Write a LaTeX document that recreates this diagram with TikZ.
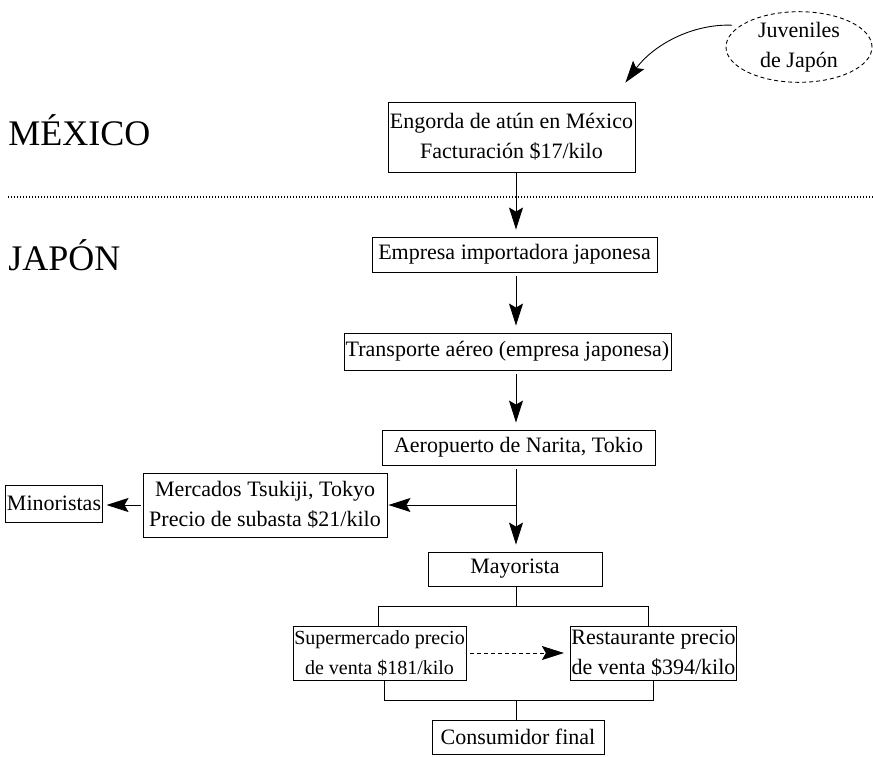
\documentclass[tikz,border=0pt]{standalone}
\usepackage{fontspec}
\setmainfont{Liberation Serif}
\usetikzlibrary{arrows.meta,shapes.geometric,calc}

\begin{document}
\begin{tikzpicture}[x=1pt,y=-1pt,line width=0.9pt,
	caja/.style={draw,align=center,inner sep=1pt,font=\fontsize{22}{30}\selectfont},
	flecha/.style={-{Stealth[length=22pt,width=14pt,inset=4pt]},shorten <=4pt,shorten >=7pt},
	pais/.style={anchor=base west,inner sep=0pt,font=\fontsize{36}{40}\selectfont}]
	\useasboundingbox (0,0) rectangle (873,756);

	\node[pais] (lMexico) at (8,145) {MÉXICO};
	\node[pais] (lJapon) at (8,270) {JAPÓN};
	\draw[line width=1.2pt,dash pattern=on 1pt off 2pt] (8,197) -- (873,197);

	\node[draw,ellipse,dash pattern=on 4pt off 3pt,minimum width=146pt,minimum height=68pt,inner sep=0pt,
		align=center,font=\fontsize{22}{30}\selectfont] (nJuveniles) at (799,47) {Juveniles\\de Japón};

	\node[caja,minimum width=247pt,minimum height=70pt] (nEngorda) at (511.5,137)
		{Engorda de atún en México\\Facturación \$17/kilo};
	\node[caja,minimum width=285pt,minimum height=35pt] (nImporta) at (514.5,254.5)
		{Empresa importadora japonesa};
	\node[caja,minimum width=327pt,minimum height=37pt] (nTransporte) at (507.5,351.5)
		{Transporte aéreo (empresa japonesa)};
	\node[caja,minimum width=273pt,minimum height=35pt] (nNarita) at (518.5,447.5)
		{Aeropuerto de Narita, Tokio};
	\node[caja,minimum width=244pt,minimum height=64pt] (nMercados) at (265,505)
		{Mercados Tsukiji, Tokyo\\Precio de subasta \$21/kilo};
	\node[caja,minimum width=96pt,minimum height=37pt] (nMinoristas) at (54,503.5)
		{Minoristas};
	\node[caja,minimum width=174pt,minimum height=34pt] (nMayorista) at (515,569)
		{Mayorista};
	\node[caja,minimum width=173pt,minimum height=54pt,font=\fontsize{20}{30}\selectfont] (nSuper) at (379.5,653)
		{Supermercado precio\\de venta \$181/kilo};
	\node[caja,minimum width=165pt,minimum height=54pt] (nRest) at (653.5,653)
		{Restaurante precio\\de venta \$394/kilo};
	\node[caja,minimum width=172pt,minimum height=34pt] (nConsumidor) at (518,737)
		{Consumidor final};

	\coordinate (eje) at (516,0);
	\coordinate (rama) at (0,606);
	\coordinate (junta) at (0,700);

	\draw[flecha,shorten <=8pt,shorten >=0pt] (nJuveniles.160)
		.. controls +(-45,-2) and +(30,-40) .. ([xshift=-10pt,yshift=19pt]nEngorda.north east);
	\draw[flecha,shorten <=0pt] (nEngorda.south -| eje) -- (nImporta.north -| eje);
	\draw[flecha] (nImporta.south -| eje) -- (nTransporte.north -| eje);
	\draw[flecha] (nTransporte.south -| eje) -- (nNarita.north -| eje);
	\draw[flecha] (nNarita.south -| eje) -- (nMayorista.north -| eje);
	\draw[flecha,shorten <=0pt,shorten >=1pt] (nMercados.east -| eje) -- (nMercados.east);
	\draw[flecha,shorten <=2pt,shorten >=4pt] (nMercados.west) -- (nMercados.west -| nMinoristas.east);

	% reparto del mayorista
	\draw (nMayorista.south -| eje) -- (rama -| eje);
	\draw ([xshift=-1.5pt]nSuper.north) |- ([xshift=-5.5pt]nRest.north |- rama) -- ([xshift=-5.5pt]nRest.north);
	\draw[flecha,dash pattern=on 4pt off 3pt,shorten >=6pt] (nSuper.east) -- (nRest.west);
	\draw ([xshift=4.5pt]nSuper.south) |- (nRest.south |- junta) -- (nRest.south);
	\draw (junta -| eje) -- (nConsumidor.north -| eje);
\end{tikzpicture}
\end{document}
